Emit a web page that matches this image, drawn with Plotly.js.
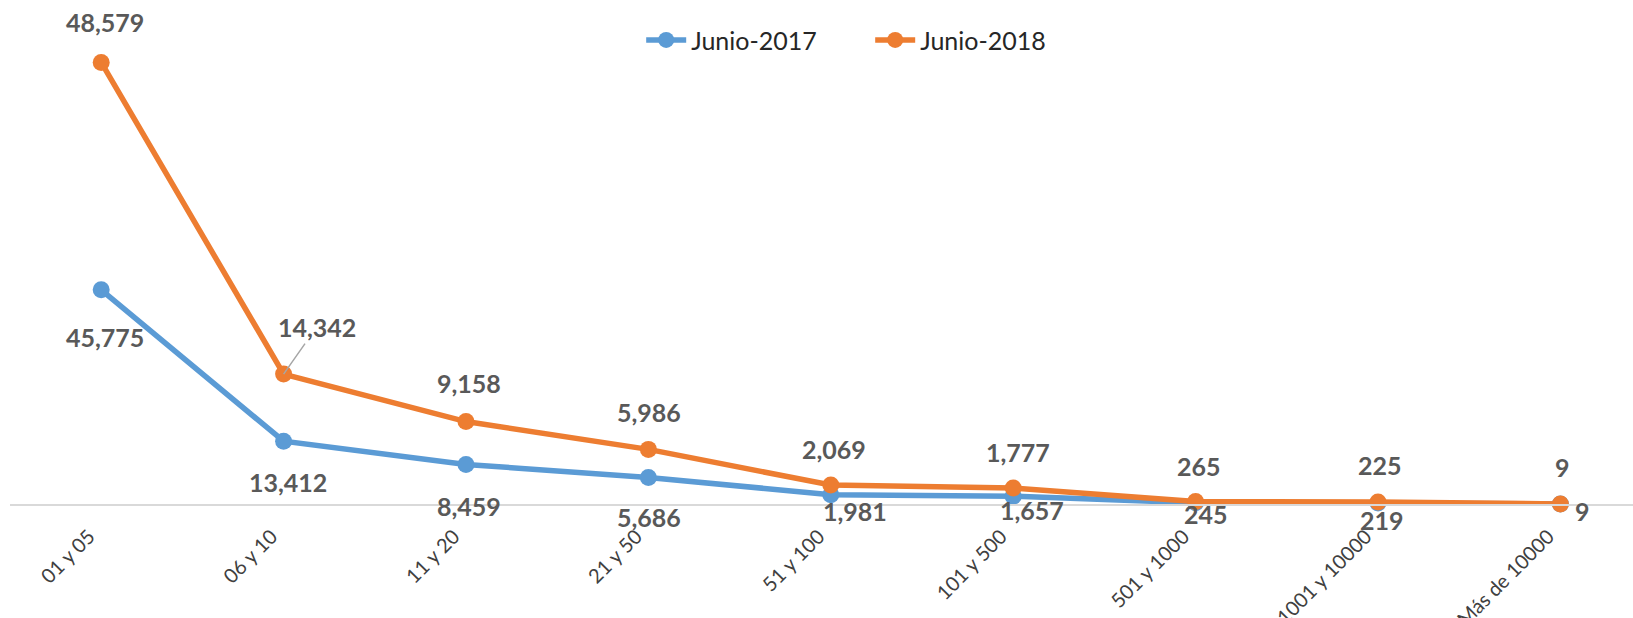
<!DOCTYPE html>
<html>
<head>
<meta charset="utf-8">
<script src="https://cdn.plot.ly/plotly-3.0.1.min.js"></script>
<style>
  html, body { margin: 0; padding: 0; background: #ffffff; }
  #chart { width: 1633px; height: 618px; }
</style>
</head>
<body>
<div id="chart"></div>
<script>
// ---- Data ----
const categories = ['01 y 05', '06 y 10', '11 y 20', '21 y 50', '51 y 100', '101 y 500', '501 y 1000', '1001 y 10000', 'Más de 10000'];
const junio2017 = [45775, 13412, 8459, 5686, 1981, 1657, 245, 219, 9];
const junio2018 = [48579, 14342, 9158, 5986, 2069, 1777, 265, 225, 9];
const seriesNames = ['Junio-2017', 'Junio-2018'];

// ---- Styles (label offsets in pixels) ----
const blueColor = '#5B9BD5';
const orangeColor = '#ED7D31';
const labelFont = { family: 'Lato, "DejaVu Sans", sans-serif', size: 25, color: '#595959', weight: 'bold' };
const blueOffsets = [[4, -47], [4, -41], [3, -42], [1, -40], [24, -16], [19, -14], [10, -11], [4, -17], [22, -7]];
const orangeOffsets = [[4, 40], [33, 47], [3, 39], [1, 37], [3, 36], [5, 36], [3, 36], [2, 37], [2, 37]];

const fmt = v => v.toLocaleString('en-US');

const traces = [
  {
    x: categories, y: junio2017, name: seriesNames[0], type: 'scatter',
    mode: 'lines+markers', stackgroup: 'one', fill: 'none',
    line: { color: blueColor, width: 5.5 }, marker: { color: blueColor, size: 17 },
    cliponaxis: false
  },
  {
    x: categories, y: junio2018, name: seriesNames[1], type: 'scatter',
    mode: 'lines+markers', stackgroup: 'one', fill: 'none',
    line: { color: orangeColor, width: 5.5 }, marker: { color: orangeColor, size: 17 },
    cliponaxis: false
  }
];

const annotations = [];
categories.forEach((c, i) => {
  annotations.push({
    x: c, y: junio2017[i], xref: 'x', yref: 'y', text: '<b>' + fmt(junio2017[i]) + '</b>',
    showarrow: false, xshift: blueOffsets[i][0], yshift: blueOffsets[i][1],
    font: labelFont, xanchor: 'center', yanchor: 'middle'
  });
  const top = junio2017[i] + junio2018[i];
  if (i === 1) {
    annotations.push({
      x: c, y: top, xref: 'x', yref: 'y', text: '<b>' + fmt(junio2018[i]) + '</b>',
      showarrow: true, arrowhead: 0, arrowwidth: 1.5, arrowcolor: '#A6A6A6',
      ax: orangeOffsets[i][0], ay: -orangeOffsets[i][1], standoff: 0,
      font: labelFont, xanchor: 'center', yanchor: 'middle'
    });
  } else {
    annotations.push({
      x: c, y: top, xref: 'x', yref: 'y', text: '<b>' + fmt(junio2018[i]) + '</b>',
      showarrow: false, xshift: orangeOffsets[i][0], yshift: orangeOffsets[i][1],
      font: labelFont, xanchor: 'center', yanchor: 'middle'
    });
  }
});

const layout = {
  width: 1633, height: 618,
  margin: { l: 10, r: 0, t: 36, b: 114 },
  paper_bgcolor: '#ffffff', plot_bgcolor: '#ffffff',
  showlegend: true,
  legend: {
    orientation: 'h', x: 0.530, xanchor: 'center', y: 0.991, yanchor: 'middle',
    itemwidth: 40, entrywidth: 174,
    font: { family: 'Lato, "DejaVu Sans", sans-serif', size: 25, color: '#262626' },
    bgcolor: 'rgba(0,0,0,0)'
  },
  xaxis: {
    type: 'category', range: [-0.5, 8.398],
    showline: true, linecolor: '#D9D9D9', linewidth: 2,
    showgrid: false, zeroline: false, ticks: '',
    tickangle: -45, ticklabelstandoff: 11, ticklabelshift: -12,
    tickfont: { family: 'Lato, "DejaVu Sans", sans-serif', size: 20, color: '#404040' }
  },
  yaxis: {
    range: [0, 100000], visible: false, showgrid: false, zeroline: false
  },
  annotations: annotations
};

Plotly.newPlot('chart', traces, layout, { displayModeBar: false, staticPlot: true });
</script>
</body>
</html>
